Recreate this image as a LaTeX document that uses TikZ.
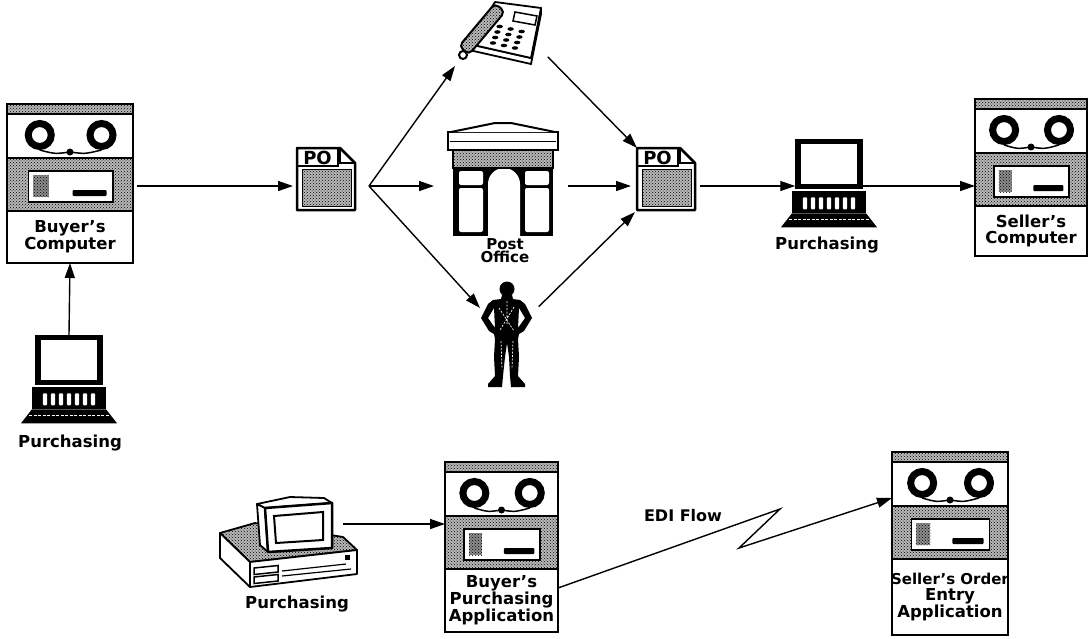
\documentclass[tikz,border=0pt]{standalone}
\usepackage{fontspec}
\setmainfont{DejaVu Sans}
\usetikzlibrary{arrows.meta,patterns,calc}

% tape cabinet: name, top left corner, width, height, label
\newcommand\tapeunit[5]{%
  \node[ghost,anchor=north west,minimum width=#3pt,minimum height=#4pt] (#1) at #2 {};
  \begin{scope}[shift={(#1.north west)}]
    \fill[white] (0,0) rectangle (#3,#4);
    \draw[dotfill,line width=1.2pt] (0,0) rectangle (#3,10);
    \draw[dotfill,line width=1.5pt] (0,54) rectangle (#3,107);
    % window with display
    \draw[line width=1.5pt,fill=white] ({0.17*#3},67) rectangle ({0.84*#3},98);
    \fill[black!45,postaction={pattern=crosshatch dots}] ({0.21*#3},71) rectangle ({0.33*#3},93);
    \fill[rounded corners=1pt] ({0.52*#3},86) rectangle ({0.79*#3},92);
    % reels and tape
    \draw[line width=1.5pt] ({0.26*#3},46) .. controls ({0.38*#3},50) .. ({0.5*#3},48)
      .. controls ({0.62*#3},50) .. ({0.75*#3},46);
    \draw[line width=7pt] ({0.26*#3},31) circle (11.5pt) ({0.75*#3},31) circle (11.5pt);
    \fill ({0.5*#3},48) circle (3.5pt);
    \node[lbl] at ({0.5*#3},{(107+#4)/2}) {#5};
    \draw[line width=2pt] (0,0) rectangle (#3,#4);
  \end{scope}
}

% terminal with keyboard: name, centre of the screen
\newcommand\workstation[2]{%
  \node[ghost,draw,line width=5.5pt,fill=white,minimum width=62pt,minimum height=45pt,outer sep=2.75pt] (#1) at #2 {};
  \begin{scope}[shift={(#1.south)}]
    \fill (-37,1.5) rectangle (37,24);
    \foreach \k in {-3,...,3}
      \fill[white,rounded corners=1pt] ({\k*8-2.2},8) rectangle ({\k*8+2.2},20);
    \fill (-37,24) -- (37,24) -- (48,38) -- (-48,38) -- cycle;
    \draw[white,line width=0.8pt,dash pattern=on 3pt off 1.5pt] (-40,30) -- (40,30);
  \end{scope}
}

% purchase order sheet: name, centre
\newcommand\podoc[2]{%
  \node[ghost,minimum width=58pt,minimum height=62pt] (#1) at #2 {};
  \begin{scope}[shift={(#1.north west)}]
    \draw[line width=2.5pt,line join=round,fill=white] (0,0) -- (43,0) -- (58,15) -- (58,62) -- (0,62) -- cycle;
    \draw[line width=2pt] (43,0) -- (43,15) -- (58,15);
    \draw[line width=2.5pt] (0,0) rectangle (41,18);
    \node[font=\bfseries\fontsize{18}{18}\selectfont,inner sep=0pt] at (20.5,9.5) {PO};
    \draw[dotfill,line width=1pt] (5,21) rectangle (54,58);
  \end{scope}
}

\begin{document}
\begin{tikzpicture}[x=1pt,y=-1pt]
  \tikzset{
    ghost/.style={inner sep=0pt,outer sep=0pt},
    dotfill/.style={fill=black!28,postaction={pattern=crosshatch dots}},
    lbl/.style={font=\bfseries\fontsize{16.5}{15.5}\selectfont,align=center,inner sep=0pt},
    flow/.style={line width=1.4pt,-{Triangle[length=15pt,width=10pt]}}
  }
  \useasboundingbox (0,0) rectangle (1089,638);
  \coordinate (row) at (0,186);

  % computers
  \tapeunit{buyer}{(7,104)}{126}{159}{Buyer's\\Computer}
  \tapeunit{seller}{(975,99)}{112}{157}{Seller's\\Computer}
  \tapeunit{bpa}{(445,462)}{113}{170}{Buyer's\\Purchasing\\Application}
  \tapeunit{soe}{(892,452)}{116}{183}{{\fontsize{15}{15.5}\selectfont Seller's Order}\\Entry\\Application}

  % terminals
  \workstation{buyterm}{(69,360)}
  \workstation{sellterm}{(829,164)}
  \node[lbl] (buyterm-lbl) at (70,443) {Purchasing};
  \node[lbl] (sellterm-lbl) at (827,245) {Purchasing};

  % orders
  \podoc{po1}{(326,179)}
  \podoc{po2}{(666,179)}
  \coordinate (fork) at ($(po1.east)+(14,7)$);

  % telephone
  \node[ghost,minimum width=90pt,minimum height=66pt,anchor=north west] (phone) at (455,0) {};
  \begin{scope}[shift={(phone.north west)}]
    \draw[line width=1.8pt,line join=round,fill=white] (14,44) -- (14,50) -- (76,64) -- (86,14) -- (86,8) -- (76,58) -- cycle;
    \draw[line width=1.8pt,line join=round,fill=white] (14,44) -- (76,58) -- (86,8) -- (40,2) -- cycle;
    \draw[line width=1.5pt,fill=white] (60,12) -- (82,16) -- (80,25) -- (58,21) -- cycle;
    \foreach \i in {0,1,2}
      \foreach \j in {0,1,2,3}
        \fill ($(38,43)+\i*(11,2.5)+\j*(2.2,-5.5)$) ellipse (3.2pt and 1.8pt);
    \begin{scope}[shift={(27,29)},rotate=50]
      \draw[dotfill,line width=2pt,rounded corners=5pt] (-28,-6.5) rectangle (28,6.5);
    \end{scope}
    \draw[line width=2pt,fill=white] (8,55) circle (4pt);
  \end{scope}

  % post office
  \node[ghost,minimum width=110pt,minimum height=113pt,anchor=north west] (office) at (448,123) {};
  \begin{scope}[shift={(office.north west)}]
    \fill (5,27) rectangle (105,113);
    \fill[white,rounded corners=2pt] (11,48) rectangle (35,62) (11,65) rectangle (35,109)
      (77,48) rectangle (101,62) (77,65) rectangle (101,109);
    \fill[white] (40,113) -- (40,61) .. controls (40,52.2) and (47.2,45) .. (56,45)
      .. controls (64.8,45) and (72,52.2) .. (72,61) -- (72,113) -- cycle;
    \draw[dotfill,line width=2pt] (5,27) rectangle (105,45);
    \draw[line width=2.5pt,fill=white] (0,9) rectangle (110,27);
    \draw[line width=1pt] (2,18) -- (108,18);
    \draw[line width=2pt,line join=round,fill=white] (3,9) -- (47,0) -- (63,0) -- (107,9);
  \end{scope}
  \node[lbl,font=\bfseries\fontsize{15}{13}\selectfont] (office-lbl) at (505,251) {Post\\Office};

  % courier
  \node[ghost,minimum width=53pt,minimum height=107pt,anchor=north west] (person) at (480,281) {};
  \begin{scope}[shift={(person.north west)}]
    \fill (27,8) circle (7.5pt);
    \fill[even odd rule] (22,14) -- (32,14) -- (33,18) -- (40,19) -- (45,23) -- (52,37) -- (44,50)
      -- (39,53) -- (38,58) -- (39,76) -- (38,95) -- (45,103) -- (45,106) -- (31,106) -- (30,95)
      -- (29,76) -- (27,62) -- (25,76) -- (23,95) -- (22,106) -- (8,106) -- (8,103) -- (15,95)
      -- (14,76) -- (15,58) -- (14,53) -- (9,50) -- (1,37) -- (8,23) -- (13,19) -- (21,18) -- cycle
      (8,37) -- (14,27) -- (15,47) -- cycle
      (45,37) -- (39,27) -- (38,47) -- cycle;
    \draw[white,line width=0.7pt,dash pattern=on 2pt off 1.5pt]
      (19,27) -- (34,50) (34,26) -- (20,49) (21,60) -- (22,88) (33,60) -- (32,88) (27,20) -- (27,44);
  \end{scope}

  % desktop computer
  \node[ghost,minimum width=76pt,minimum height=56pt,anchor=north west] (desk) at (257,496) {};
  \begin{scope}[shift={($(desk.north west)+(-39,-1)$)}]
    \draw[dotfill,line width=1.8pt,line join=round] (2,38) -- (32,67) -- (139,55) -- (125,42) -- (37,28) -- cycle;
    \draw[line width=1.8pt,line join=round,fill=white] (2,38) -- (32,67) -- (32,92) -- (2,63) -- cycle;
    \draw[line width=1.8pt,line join=round,fill=white] (32,67) -- (139,55) -- (139,79) -- (32,92) -- cycle;
    \draw[line width=1.5pt] (36,73) -- (60,70.5) -- (60,77) -- (36,79.5) -- cycle
      (36,82) -- (60,79.5) -- (60,86) -- (36,88.5) -- cycle;
    \draw[line width=1.2pt] (64,76) -- (128,69) (64,81) -- (133,74);
    \fill (127,60) rectangle (132,65);
    \draw[line width=1.8pt,line join=round,fill=white] (39,9) -- (72,2) -- (106,3) -- (114,8) -- (47,13) -- cycle;
    \draw[line width=1.8pt,line join=round,fill=white] (39,9) -- (47,13) -- (50,57) -- (42,50) -- cycle;
    \draw[line width=2.5pt,line join=round,fill=white] (47,13) -- (114,8) -- (114,53) -- (50,57) -- cycle;
    \draw[line width=2pt,fill=white] (56,21) -- (105,17) -- (105,45) -- (58,48) -- cycle;
  \end{scope}
  \node[lbl] (desk-lbl) at (297,604) {Purchasing};

  % paper flow
  \draw[flow,shorten <=4pt,shorten >=4pt] (buyer.east |- row) -- (po1.west |- row);
  \draw[flow] (fork) -- (phone.south west);
  \draw[flow,shorten >=14pt] (fork) -- (office.west |- row);
  \draw[flow] (fork) -- (person.135);
  \draw[flow,shorten <=4pt] (phone.335) -- (po2.north west);
  \draw[flow,shorten <=10pt,shorten >=6pt] (office.east |- row) -- (po2.west |- row);
  \draw[flow,shorten <=8pt,shorten >=3pt] (person.40) -- (po2.south west);
  \draw[flow,shorten <=5pt] (po2.east |- row) -- (sellterm.west |- row);
  \draw[flow] (sellterm.east |- row) -- (seller.west |- row);
  \draw[flow] (buyterm.north) -- (buyer.south);

  % EDI
  \draw[flow,shorten <=10pt] (desk.east) -- (bpa.west |- desk.east);
  \draw[flow] ($(bpa.south east)+(0,-44)$) -- (780,509) -- (739,548) -- ($(soe.north west)+(0,46)$);
  \node[font=\bfseries\fontsize{16}{16}\selectfont] (edi) at (683,516) {EDI Flow};
\end{tikzpicture}
\end{document}
